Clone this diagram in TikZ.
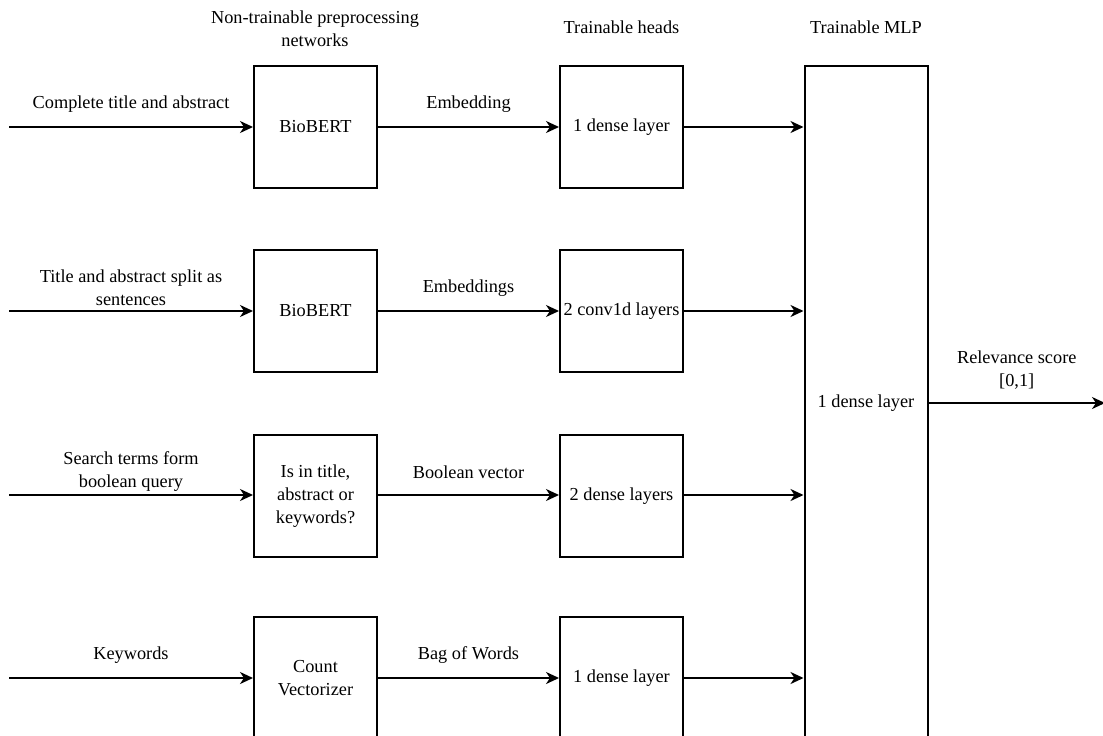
\documentclass[tikz,border=0pt]{standalone}
\usepackage{fontspec}
\setmainfont{Liberation Serif}
\usetikzlibrary{arrows.meta}
\begin{document}
\begin{tikzpicture}[x=1pt,y=-1pt,
  every node/.style={font=\fontsize{18.3}{23}\selectfont},
  blk/.style={draw, line width=2pt, minimum width=123pt, minimum height=122pt, align=center, inner sep=2pt},
  conn/.style={line width=2pt, -{Stealth[length=13pt,width=12pt,inset=4pt]}},
  lbl/.style={midway, yshift=23pt, align=center},
  hdr/.style={align=center}]
\clip (0,0) rectangle (1103,736);
% headers
\node[hdr] (h1) at (315,29) {Non-trainable preprocessing\\networks};
\node[hdr] (h2) at (621.5,27) {Trainable heads};
\node[hdr] (h3) at (866,27) {Trainable MLP};
% preprocessing boxes
\node[blk] (p1) at (315.5,127) {BioBERT};
\node[blk] (p2) at (315.5,311) {BioBERT};
\node[blk] (p3) at (315.5,496) {Is in title,\\abstract or\\keywords?};
\node[blk] (p4) at (315.5,678) {Count\\Vectorizer};
% heads
\node[blk] (t1) at (621.5,127) {1 dense layer};
\node[blk] (t2) at (621.5,311) {2 conv1d layers};
\node[blk] (t3) at (621.5,496) {2 dense layers};
\node[blk] (t4) at (621.5,678) {1 dense layer};
% MLP
\node[blk, minimum height=674pt] (m) at (866,403) {1 dense layer};
% input coordinates
\coordinate (i1) at (9,127);
\coordinate (i2) at (9,311);
\coordinate (i3) at (9,495);
\coordinate (i4) at (9,678);
\coordinate (out) at (1105,403);
% input arrows
\draw[conn] (i1) -- (p1.west |- i1) node[lbl] {Complete title and abstract};
\draw[conn] (i2) -- (p2.west |- i2) node[lbl] {Title and abstract split as\\sentences};
\draw[conn] (i3) -- (p3.west |- i3) node[lbl] {Search terms form\\boolean query};
\draw[conn] (i4) -- (p4.west |- i4) node[lbl] {Keywords};
% middle arrows
\draw[conn] (p1.east |- i1) -- (t1.west |- i1) node[lbl] {Embedding};
\draw[conn] (p2.east |- i2) -- (t2.west |- i2) node[lbl] {Embeddings};
\draw[conn] (p3.east |- i3) -- (t3.west |- i3) node[lbl] {Boolean vector};
\draw[conn] (p4.east |- i4) -- (t4.west |- i4) node[lbl] {Bag of Words};
% to MLP
\draw[conn] (t1.east |- i1) -- (m.west |- i1);
\draw[conn] (t2.east |- i2) -- (m.west |- i2);
\draw[conn] (t3.east |- i3) -- (m.west |- i3);
\draw[conn] (t4.east |- i4) -- (m.west |- i4);
% output
\draw[conn] (m.east |- out) -- (out) node[lbl, yshift=10pt] {Relevance score\\{}[0,1]};
\end{tikzpicture}
\end{document}
